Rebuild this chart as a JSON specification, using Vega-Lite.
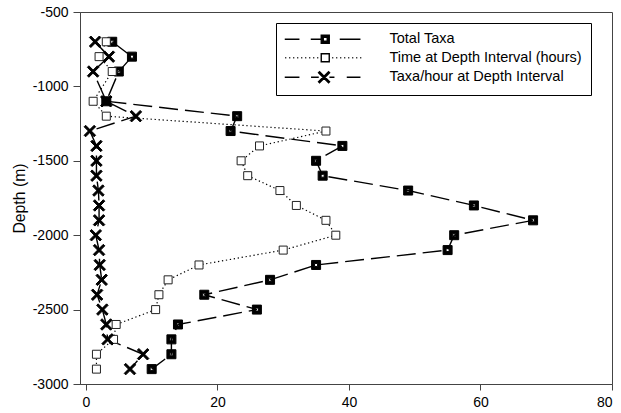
{
  "$schema": "https://vega.github.io/schema/vega-lite/v6.json",
  "width": 532,
  "height": 372,
  "autosize": {"type": "none"},
  "padding": {"left": 80, "top": 12, "right": 9, "bottom": 29},
  "background": "white",
  "config": {
    "font": "Liberation Sans",
    "view": {"stroke": "#444", "strokeWidth": 1},
    "axis": {"domainColor": "#444", "tickColor": "#444", "labelColor": "black", "titleColor": "black", "labelFont": "Liberation Sans", "titleFont": "Liberation Sans", "grid": false, "labelFontSize": 14, "domainWidth": 1, "tickWidth": 1},
    "legend": {"labelLimit": 400, "symbolOpacity": 1, "symbolStrokeColor": "black", "symbolStrokeWidth": 1.4, "symbolSize": 100}
  },
  "data": {
    "values": [
      {"depth": -700, "series": "Total Taxa", "value": 4},
      {"depth": -800, "series": "Total Taxa", "value": 7},
      {"depth": -900, "series": "Total Taxa", "value": 5},
      {"depth": -1100, "series": "Total Taxa", "value": 3.1},
      {"depth": -1200, "series": "Total Taxa", "value": 23},
      {"depth": -1300, "series": "Total Taxa", "value": 22},
      {"depth": -1400, "series": "Total Taxa", "value": 39},
      {"depth": -1500, "series": "Total Taxa", "value": 35},
      {"depth": -1600, "series": "Total Taxa", "value": 36},
      {"depth": -1700, "series": "Total Taxa", "value": 49},
      {"depth": -1800, "series": "Total Taxa", "value": 59},
      {"depth": -1900, "series": "Total Taxa", "value": 68},
      {"depth": -2000, "series": "Total Taxa", "value": 56},
      {"depth": -2100, "series": "Total Taxa", "value": 55},
      {"depth": -2200, "series": "Total Taxa", "value": 35},
      {"depth": -2300, "series": "Total Taxa", "value": 28},
      {"depth": -2400, "series": "Total Taxa", "value": 18},
      {"depth": -2500, "series": "Total Taxa", "value": 26},
      {"depth": -2600, "series": "Total Taxa", "value": 14},
      {"depth": -2700, "series": "Total Taxa", "value": 13},
      {"depth": -2800, "series": "Total Taxa", "value": 13},
      {"depth": -2900, "series": "Total Taxa", "value": 10},
      {"depth": -700, "series": "Time at Depth Interval (hours)", "value": 3.1},
      {"depth": -800, "series": "Time at Depth Interval (hours)", "value": 2},
      {"depth": -900, "series": "Time at Depth Interval (hours)", "value": 4},
      {"depth": -1100, "series": "Time at Depth Interval (hours)", "value": 1.1},
      {"depth": -1200, "series": "Time at Depth Interval (hours)", "value": 3.1},
      {"depth": -1300, "series": "Time at Depth Interval (hours)", "value": 36.5},
      {"depth": -1400, "series": "Time at Depth Interval (hours)", "value": 26.4},
      {"depth": -1500, "series": "Time at Depth Interval (hours)", "value": 23.6},
      {"depth": -1600, "series": "Time at Depth Interval (hours)", "value": 24.6},
      {"depth": -1700, "series": "Time at Depth Interval (hours)", "value": 29.5},
      {"depth": -1800, "series": "Time at Depth Interval (hours)", "value": 32},
      {"depth": -1900, "series": "Time at Depth Interval (hours)", "value": 36.5},
      {"depth": -2000, "series": "Time at Depth Interval (hours)", "value": 38},
      {"depth": -2100, "series": "Time at Depth Interval (hours)", "value": 30},
      {"depth": -2200, "series": "Time at Depth Interval (hours)", "value": 17.2},
      {"depth": -2300, "series": "Time at Depth Interval (hours)", "value": 12.5},
      {"depth": -2400, "series": "Time at Depth Interval (hours)", "value": 11.1},
      {"depth": -2500, "series": "Time at Depth Interval (hours)", "value": 10.6},
      {"depth": -2600, "series": "Time at Depth Interval (hours)", "value": 4.6},
      {"depth": -2700, "series": "Time at Depth Interval (hours)", "value": 4.2},
      {"depth": -2800, "series": "Time at Depth Interval (hours)", "value": 1.6},
      {"depth": -2900, "series": "Time at Depth Interval (hours)", "value": 1.6},
      {"depth": -700, "series": "Taxa/hour at Depth Interval", "value": 1.4},
      {"depth": -800, "series": "Taxa/hour at Depth Interval", "value": 3.5},
      {"depth": -900, "series": "Taxa/hour at Depth Interval", "value": 1.1},
      {"depth": -1100, "series": "Taxa/hour at Depth Interval", "value": 3.1},
      {"depth": -1200, "series": "Taxa/hour at Depth Interval", "value": 7.6},
      {"depth": -1300, "series": "Taxa/hour at Depth Interval", "value": 0.6},
      {"depth": -1400, "series": "Taxa/hour at Depth Interval", "value": 1.6},
      {"depth": -1500, "series": "Taxa/hour at Depth Interval", "value": 1.6},
      {"depth": -1600, "series": "Taxa/hour at Depth Interval", "value": 1.6},
      {"depth": -1700, "series": "Taxa/hour at Depth Interval", "value": 1.9},
      {"depth": -1800, "series": "Taxa/hour at Depth Interval", "value": 2.0},
      {"depth": -1900, "series": "Taxa/hour at Depth Interval", "value": 2.0},
      {"depth": -2000, "series": "Taxa/hour at Depth Interval", "value": 1.5},
      {"depth": -2100, "series": "Taxa/hour at Depth Interval", "value": 2.0},
      {"depth": -2200, "series": "Taxa/hour at Depth Interval", "value": 2.1},
      {"depth": -2300, "series": "Taxa/hour at Depth Interval", "value": 2.4},
      {"depth": -2400, "series": "Taxa/hour at Depth Interval", "value": 1.7},
      {"depth": -2500, "series": "Taxa/hour at Depth Interval", "value": 2.5},
      {"depth": -2600, "series": "Taxa/hour at Depth Interval", "value": 3.1},
      {"depth": -2700, "series": "Taxa/hour at Depth Interval", "value": 3.3},
      {"depth": -2800, "series": "Taxa/hour at Depth Interval", "value": 8.7},
      {"depth": -2900, "series": "Taxa/hour at Depth Interval", "value": 6.7}
    ]
  },
  "encoding": {
    "x": {"field": "value", "type": "quantitative", "scale": {"domain": [-0.9, 80], "nice": false, "zero": false}, "axis": {"values": [0, 20, 40, 60, 80], "title": null, "tickSize": 6, "labelPadding": 5}},
    "y": {"field": "depth", "type": "quantitative", "scale": {"domain": [-3000, -500], "nice": false, "zero": false}, "axis": {"values": [-500, -1000, -1500, -2000, -2500, -3000], "labelExpr": "'' + datum.value", "title": "Depth (m)", "titleFontSize": 15.8, "titleFontWeight": "normal", "titlePadding": 5, "tickSize": 7, "labelPadding": 5}}
  },
  "layer": [
    {
      "transform": [{"filter": "datum.series === 'Total Taxa'"}],
      "mark": {"type": "line", "stroke": "black", "strokeWidth": 1.4, "strokeDash": [19, 7]},
      "encoding": {"order": {"field": "depth", "sort": "descending"}}
    },
    {
      "transform": [{"filter": "datum.series === 'Time at Depth Interval (hours)'"}],
      "mark": {"type": "line", "stroke": "black", "strokeWidth": 1.2, "strokeDash": [1.3, 2.7]},
      "encoding": {"order": {"field": "depth", "sort": "descending"}}
    },
    {
      "transform": [{"filter": "datum.series === 'Taxa/hour at Depth Interval'"}],
      "mark": {"type": "line", "stroke": "black", "strokeWidth": 1.4, "strokeDash": [19, 7]},
      "encoding": {"order": {"field": "depth", "sort": "descending"}}
    },
    {
      "transform": [{"filter": "datum.series === 'Total Taxa'"}],
      "mark": {"type": "point", "shape": "M-0.9,-0.9H0.9V0.9H-0.9ZM-0.3,-0.3V0.3H0.3V-0.3Z", "filled": true, "fill": "black", "stroke": "black", "strokeWidth": 1, "size": 100, "opacity": 1}
    },
    {
      "transform": [{"filter": "datum.series === 'Time at Depth Interval (hours)'"}],
      "mark": {"type": "point", "shape": "square", "filled": true, "fill": "white", "stroke": "#222222", "strokeWidth": 1, "size": 64, "opacity": 1}
    },
    {
      "transform": [{"filter": "datum.series === 'Taxa/hour at Depth Interval'"}],
      "mark": {"type": "point", "shape": "M-0.85,-1.15L1.15,0.85L0.85,1.15L-1.15,-0.85ZM1.15,-0.85L-0.85,1.15L-1.15,0.85L0.85,-1.15Z", "filled": true, "fill": "black", "stroke": "black", "strokeWidth": 1, "size": 100, "opacity": 1}
    },
    {
      "transform": [{"filter": "datum.depth === -700"}],
      "mark": {"type": "point", "filled": true, "stroke": "black", "strokeWidth": 1.4, "size": 100, "opacity": 0},
      "encoding": {
        "shape": {
          "field": "series", "type": "nominal",
          "scale": {"domain": ["Total Taxa", "Time at Depth Interval (hours)", "Taxa/hour at Depth Interval"], "range": ["M-8.1,0H-5.16M-2.9,0H-0.8M2.9,0H7.04M-0.8,-0.8H0.8V0.8H-0.8ZM-0.4,-0.4V0.4H0.4V-0.4Z", "M-8,0H-7.8M-7.2,0H-7M-6.4,0H-6.2M-5.6,0H-5.4M-4.8,0H-4.6M-4,0H-3.8M-3.2,0H-3M-2.4,0H-2.2M-1.6,0H-1.4M-0.8,-0.8H0.8V0.8H-0.8ZM1.4,0H1.6M2.2,0H2.4M3,0H3.2M3.8,0H4M4.6,0H4.8M5.4,0H5.6M6.2,0H6.4M7,0H7.2", "M-8.1,0H-5.16M-2.84,0H-1.3M0.84,0H1.84M4.3,0H7.04M-1.14,-1.1L0.86,0.9L0.66,1.1L-1.34,-0.9ZM0.86,-0.9L-1.14,1.1L-1.34,0.9L0.66,-1.1Z"]},
          "legend": {
            "title": null, "orient": "none", "legendX": 196, "legendY": 11,
            "strokeColor": "black", "fillColor": "white", "padding": 9,
            "labelFont": "Liberation Sans", "labelFontSize": 14.5, "labelColor": "black", "labelLimit": 400,
            "symbolSize": 100, "symbolStrokeWidth": 1.4, "symbolStrokeColor": "black", "symbolOpacity": 1, "symbolOffset": 33, "labelOffset": 57, "rowPadding": 2.5
          }
        },
        "fill": {
          "field": "series", "type": "nominal",
          "scale": {"domain": ["Total Taxa", "Time at Depth Interval (hours)", "Taxa/hour at Depth Interval"], "range": ["black", "white", "black"]},
          "legend": {
            "title": null, "orient": "none", "legendX": 196, "legendY": 11,
            "strokeColor": "black", "fillColor": "white", "padding": 9,
            "labelFont": "Liberation Sans", "labelFontSize": 14.5, "labelColor": "black", "labelLimit": 400,
            "symbolSize": 100, "symbolStrokeWidth": 1.4, "symbolStrokeColor": "black", "symbolOpacity": 1, "symbolOffset": 33, "labelOffset": 57, "rowPadding": 2.5
          }
        },
        "stroke": {
          "field": "series", "type": "nominal",
          "scale": {"domain": ["Total Taxa", "Time at Depth Interval (hours)", "Taxa/hour at Depth Interval"], "range": ["black", "black", "black"]},
          "legend": {
            "title": null, "orient": "none", "legendX": 196, "legendY": 11,
            "strokeColor": "black", "fillColor": "white", "padding": 9,
            "labelFont": "Liberation Sans", "labelFontSize": 14.5, "labelColor": "black", "labelLimit": 400,
            "symbolSize": 100, "symbolStrokeWidth": 1.4, "symbolStrokeColor": "black", "symbolOpacity": 1, "symbolOffset": 33, "labelOffset": 57, "rowPadding": 2.5
          }
        }
      }
    }
  ]
}
